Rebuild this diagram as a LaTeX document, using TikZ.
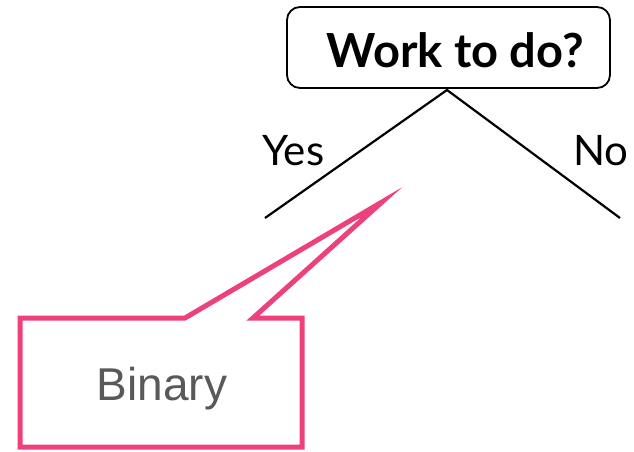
\documentclass[tikz,border=0pt]{standalone}
\usepackage{fontspec}
\setmainfont{Lato}
\newfontfamily\calloutfont{Liberation Sans}
\definecolor{calloutpink}{RGB}{236,65,125}
\definecolor{calloutgray}{RGB}{88,89,91}
\tikzset{
  question/.style={draw=black, line width=1.8pt, rounded corners=13pt, minimum width=323pt, minimum height=81pt, inner sep=0pt},
  branch/.style={draw=black, line width=2.2pt},
  answer/.style={font=\fontsize{42}{42}\selectfont, anchor=base west, inner sep=0pt},
  balloon/.style={draw=calloutpink, line width=5pt, miter limit=20},
}
\begin{document}
\begin{tikzpicture}[x=1pt, y=-1pt]
  \useasboundingbox (0,0) rectangle (634,452);
  % decision node
  \node[question] (q) at (448.5,47.5) {};
  \node[font=\bfseries\fontsize{47}{47}\selectfont, anchor=base, inner sep=0pt] (qt) at (455,67) {Work to do?};
  % branches
  \coordinate (apex) at (447,90);
  \coordinate (yesend) at (265,218);
  \coordinate (noend) at (620,218);
  \draw[branch] (yesend) -- (apex) -- (noend);
  \node[answer] (yes) at (262,165) {Yes};
  \node[answer] (no) at (573,165) {No};
  % callout balloon (the mitred tip reaches a little past the path corner)
  \coordinate (tip) at (382,202);
  \draw[balloon] (20,318) -- (185,318) -- (tip) -- (253,318) -- (302,318) -- (302,447) -- (20,447) -- cycle;
  \node[font=\calloutfont\fontsize{46}{46}\selectfont, text=calloutgray, anchor=base, inner sep=0pt] (bin) at (162,400) {Binary};
\end{tikzpicture}
\end{document}
